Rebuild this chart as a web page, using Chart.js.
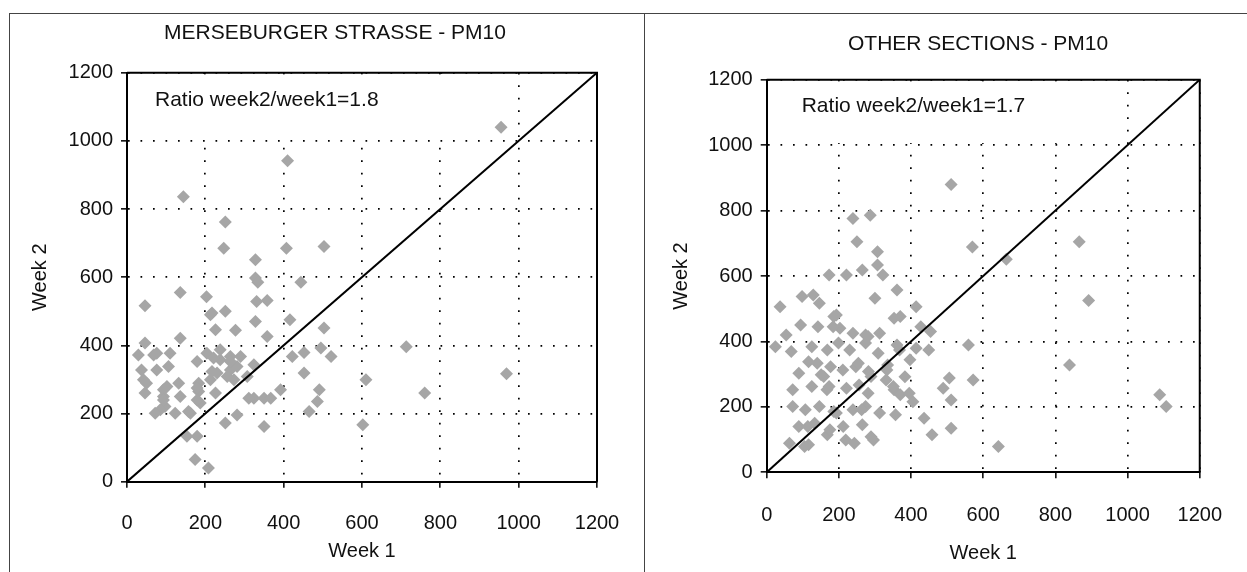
<!DOCTYPE html>
<html>
<head>
<meta charset="utf-8">
<script src="https://cdn.jsdelivr.net/npm/chart.js@4.4.1/dist/chart.umd.min.js"></script>
<style>
  html, body { margin: 0; padding: 0; background: #fff; }
  body { width: 1247px; height: 572px; position: relative; overflow: hidden; }
  .frame { position: absolute; left: 9px; top: 13px; right: -4px; bottom: -4px;
           border-left: 1.5px solid #444; border-top: 1.5px solid #444; }
  .divider { position: absolute; left: 644px; top: 13px; bottom: 0; border-left: 1.5px solid #444; }
  .panel { position: absolute; top: 0; height: 572px; }
  #left { left: 0; width: 644px; }
  #right { left: 645px; width: 602px; }
</style>
</head>
<body>
<div class="frame"></div>
<div class="divider"></div>
<div class="panel" id="left"><canvas id="chartLeft"></canvas></div>
<div class="panel" id="right"><canvas id="chartRight"></canvas></div>
<script>
// PM10 concentrations, week 1 vs week 2, per sampling site
const tickValues = [0, 200, 400, 600, 800, 1000, 1200];
const parityLine = [0, 1200];

const mersWeek1 = [144, 410, 955, 251, 247, 328, 407, 503, 328,
  136, 46, 203, 334, 444, 331, 358, 217, 251, 328,
  416, 226, 277, 358, 503, 136, 46, 29, 68, 110,
  179, 204, 238, 264, 281, 230, 256, 213, 264, 290,
  238, 422, 452, 495, 521, 452, 491, 486, 610, 602,
  465, 350, 324, 367, 392, 350, 281, 251, 179, 153,
  174, 208, 187, 162, 123, 93, 97, 85, 46, 50,
  37, 76, 106, 132, 102, 183, 183, 226, 307,
  713, 760, 969,
  213, 76, 221, 264, 217, 273, 324, 42, 93, 179, 136, 93, 179, 157, 72, 311];
const mersWeek2 = [836, 942, 1040, 762, 685, 651, 685, 690, 598,
  555, 516, 543, 585, 585, 529, 532, 495, 500, 470,
  475, 446, 444, 426, 451, 421, 407, 372, 372, 377,
  353, 377, 358, 367, 338, 319, 309, 299, 328, 367,
  387, 367, 379, 392, 367, 319, 270, 235, 299, 167,
  206, 245, 245, 245, 270, 162, 196, 172, 133, 133,
  65, 40, 231, 201, 201, 250, 221, 211, 260, 289,
  328, 328, 338, 289, 279, 289, 265, 260, 309,
  396, 260, 317,
  490, 377, 363, 353, 323, 299, 343, 299, 270, 275, 250, 240, 240, 206, 201, 245];

const otherWeek1 = [664, 866, 892, 839, 1089, 1107, 642,
  511, 239, 287, 250, 307, 570, 173, 221, 265, 307,
  322, 361, 98, 129, 146, 37, 300, 414, 186, 353,
  370, 94, 142, 203, 54, 239, 274, 313, 427, 454,
  559, 24, 68, 125, 168, 199, 230, 274, 309, 361,
  414, 449, 397, 116, 177, 89, 151, 247, 282, 335,
  383, 506, 572, 72, 125, 173, 221, 256, 331, 353,
  370, 489, 72, 107, 146, 186, 239, 274, 313, 405,
  511, 357, 436, 89, 133, 212, 265, 511, 458, 168,
  63, 116, 243, 296,
  193, 184, 281, 368, 140, 158, 211, 254, 289, 333, 167, 281, 351, 395, 193, 263, 114, 175, 219, 289, 105];
const otherWeek2 = [651, 705, 525, 328, 237, 201, 79,
  880, 776, 786, 705, 674, 689, 603, 603, 618, 634,
  603, 557, 537, 542, 517, 506, 532, 506, 476, 471,
  476, 450, 445, 440, 420, 425, 420, 425, 445, 430,
  389, 384, 369, 384, 374, 395, 374, 395, 364, 389,
  379, 374, 344, 338, 323, 303, 298, 323, 308, 328,
  292, 288, 282, 252, 262, 262, 257, 267, 282, 252,
  237, 257, 201, 191, 201, 186, 191, 201, 181, 216,
  221, 176, 165, 140, 150, 140, 145, 135, 115, 115,
  89, 84, 89, 99,
  481, 445, 415, 374, 333, 293, 313, 333, 293, 313, 252, 242, 262, 242, 181, 191, 140, 130, 99, 109, 79];

const FONT = "'Liberation Sans', Arial, sans-serif";

// closes the plot box on the top and right sides
const boxFrame = {
  id: 'boxFrame',
  afterDatasetsDraw(chart) {
    const {ctx, chartArea: a} = chart;
    ctx.save();
    ctx.strokeStyle = '#000';
    ctx.lineWidth = 2;
    ctx.beginPath();
    ctx.moveTo(a.left, a.top);
    ctx.lineTo(a.right, a.top);
    ctx.lineTo(a.right, a.bottom);
    ctx.stroke();
    ctx.restore();
  }
};

// panel heading, left-aligned above the plot
const panelTitle = {
  id: 'panelTitle',
  afterDraw(chart, args, opts) {
    const {ctx} = chart;
    ctx.save();
    ctx.fillStyle = '#111';
    ctx.font = '21px ' + FONT;
    ctx.textBaseline = 'middle';
    ctx.fillText(opts.text, opts.x, opts.y);
    ctx.restore();
  }
};

// ratio annotation in a white box over the upper-left grid
const ratioNote = {
  id: 'ratioNote',
  beforeDatasetsDraw(chart, args, opts) {
    const {ctx, chartArea: a, scales: {x, y}} = chart;
    ctx.save();
    ctx.fillStyle = '#fff';
    ctx.fillRect(a.left + 2, a.top + 2, x.getPixelForValue(900) - a.left - 2, y.getPixelForValue(1000) - a.top - 4);
    ctx.fillStyle = '#111';
    ctx.font = '21px ' + FONT;
    ctx.textBaseline = 'middle';
    ctx.fillText(opts.text, a.left + opts.dx, a.top + opts.dy);
    ctx.restore();
  }
};

function makePanel(id, title, ratio, week1, week2, g) {
  const points = week1.map((v, i) => ({x: v, y: week2[i]}));
  const diag = parityLine.map(v => ({x: v, y: v}));
  const gridOpts = {
    color: '#000', lineWidth: 1.7,
    drawTicks: true, tickLength: 6, tickColor: '#000', tickWidth: 1.5, tickBorderDash: []
  };
  const borderOpts = {display: true, color: '#000', width: 2, dash: [1.7, 10.8]};
  const tickFont = {family: FONT, size: 20};
  return new Chart(id, {
    type: 'scatter',
    data: {
      datasets: [{
        type: 'line',
        data: diag,
        borderColor: '#000',
        borderWidth: 2,
        pointRadius: 0
      }, {
        data: points,
        pointStyle: 'rectRot',
        pointRadius: 6.5,
        pointHoverRadius: 6.5,
        backgroundColor: '#a6a6a6',
        borderWidth: 0
      }]
    },
    options: {
      responsive: true,
      maintainAspectRatio: false,
      animation: false,
      layout: {padding: {left: 0, right: g.padRight, top: g.padTop, bottom: 0}},
      plugins: {
        legend: {display: false},
        tooltip: {enabled: false},
        panelTitle: {text: title, x: g.titleX, y: g.titleY},
        ratioNote: {text: ratio, dx: g.ratioDx, dy: g.ratioDy}
      },
      scales: {
        x: {
          type: 'linear', min: 0, max: 1200,
          afterBuildTicks: s => { s.ticks = tickValues.map(v => ({value: v})); },
          afterFit: s => { s.height = g.xHeight; },
          grid: gridOpts,
          border: borderOpts,
          ticks: {color: '#111', padding: g.xTickPad, font: tickFont, callback: v => String(v)},
          title: {display: true, text: 'Week 1', color: '#111',
                  font: tickFont, padding: {top: 0, bottom: g.xTitlePad}}
        },
        y: {
          type: 'linear', min: 0, max: 1200,
          afterBuildTicks: s => { s.ticks = tickValues.map(v => ({value: v})); },
          afterFit: s => { s.width = g.yWidth; },
          grid: gridOpts,
          border: borderOpts,
          ticks: {color: '#111', padding: 8, font: tickFont, callback: v => String(v)},
          title: {display: true, text: 'Week 2', color: '#111',
                  font: tickFont, padding: {top: g.yTitlePad, bottom: 0}}
        }
      }
    },
    plugins: [ratioNote, boxFrame, panelTitle]
  });
}

makePanel('chartLeft', 'MERSEBURGER STRASSE - PM10', 'Ratio week2/week1=1.8', mersWeek1, mersWeek2, {
  padRight: 47, padTop: 72.7, yWidth: 127, xHeight: 90.3,
  xTickPad: 23.5, xTitlePad: 9, yTitlePad: 28, ratioDx: 28, ratioDy: 28,
  titleX: 164, titleY: 33
});

makePanel('chartRight', 'OTHER SECTIONS - PM10', 'Ratio week2/week1=1.7', otherWeek1, otherWeek2, {
  padRight: 26, padTop: 79.7, yWidth: 121.7, xHeight: 99.7,
  xTickPad: 25, xTitlePad: 7, yTitlePad: 24, ratioDx: 35, ratioDy: 27,
  titleX: 203, titleY: 44
});
</script>
</body>
</html>
